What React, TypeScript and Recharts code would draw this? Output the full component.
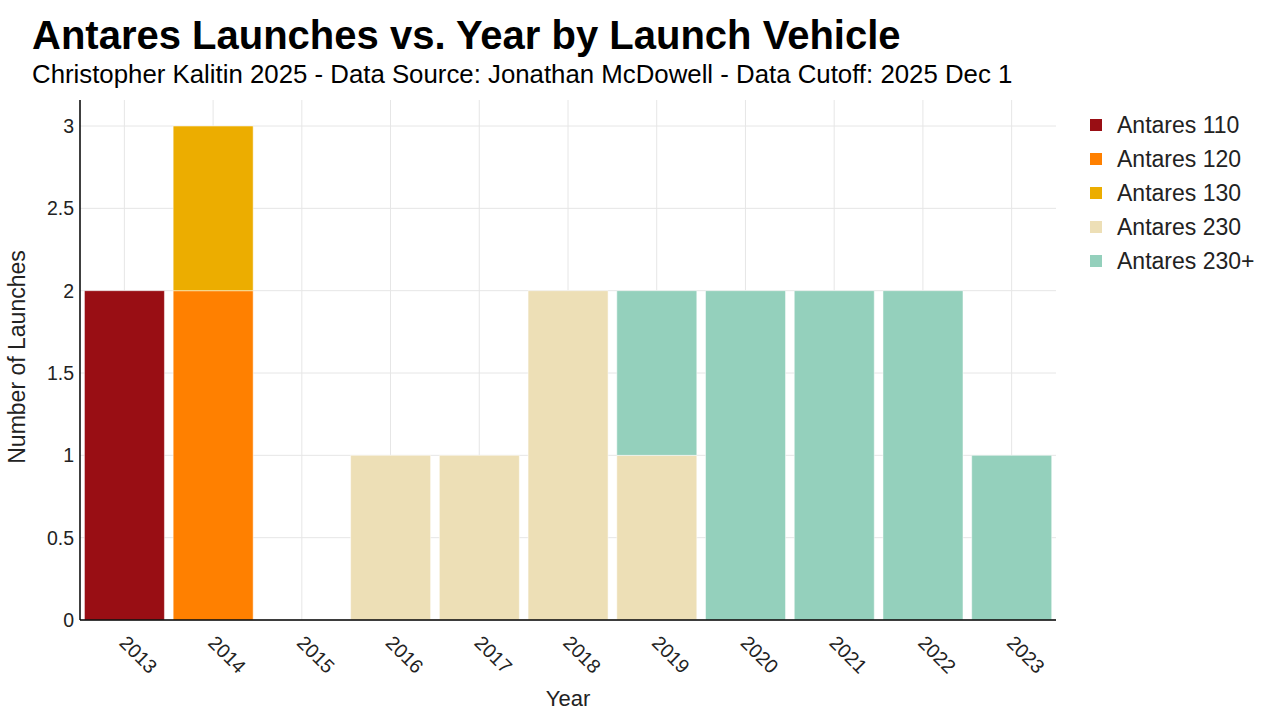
import React from 'react';
import { BarChart, Bar, XAxis, YAxis, CartesianGrid, Legend } from 'recharts';

const years = ['2013', '2014', '2015', '2016', '2017', '2018', '2019', '2020', '2021', '2022', '2023'];
const antares110 = [2, 0, 0, 0, 0, 0, 0, 0, 0, 0, 0];
const antares120 = [0, 2, 0, 0, 0, 0, 0, 0, 0, 0, 0];
const antares130 = [0, 1, 0, 0, 0, 0, 0, 0, 0, 0, 0];
const antares230 = [0, 0, 0, 1, 1, 2, 1, 0, 0, 0, 0];
const antares230p = [0, 0, 0, 0, 0, 0, 1, 2, 2, 2, 1];
const yTicks = [0, 0.5, 1, 1.5, 2, 2.5, 3];
const Y_MAX = 3.158;

const series = [
  { key: 'a110', name: 'Antares 110', color: '#990E14', values: antares110 },
  { key: 'a120', name: 'Antares 120', color: '#FF8000', values: antares120 },
  { key: 'a130', name: 'Antares 130', color: '#ECAD00', values: antares130 },
  { key: 'a230', name: 'Antares 230', color: '#EDDFB6', values: antares230 },
  { key: 'a230p', name: 'Antares 230+', color: '#94D0BC', values: antares230p },
];

const data = years.map((year, i) => {
  const row: Record<string, any> = { year };
  series.forEach((s) => {
    row[s.key] = s.values[i];
  });
  return row;
});

const FONT = '"Liberation Sans", Arial, Helvetica, sans-serif';
const TEXT = '#222';

const XTick = (props: any) => {
  const { x, y, payload } = props;
  return (
    <g transform={`translate(${x - 6},${y + 24})`}>
      <text transform="rotate(45)" textAnchor="start" fontSize={19.5} fill={TEXT} fontFamily={FONT}>
        {payload.value}
      </text>
    </g>
  );
};

const LegendContent = (props: any) => {
  const { payload } = props;
  return (
    <div style={{ fontFamily: FONT }}>
      {(payload || []).map((p: any) => (
        <div key={p.value} style={{ display: 'flex', alignItems: 'center', height: 34 }}>
          <div style={{ width: 12, height: 12, background: p.color, marginLeft: 4, marginRight: 15 }} />
          <span style={{ fontSize: 23, color: TEXT, whiteSpace: 'nowrap' }}>{p.value}</span>
        </div>
      ))}
    </div>
  );
};

// grid lines only at the tick values / category centres (no border lines)
const hGen = (props: any) => {
  const o = props.offset;
  return yTicks.map((t) => o.top + o.height * (1 - t / Y_MAX));
};

const vGen = (props: any) => {
  const o = props.offset;
  const band = o.width / years.length;
  return years.map((_, i) => o.left + band * (i + 0.5));
};

export default function App() {
  return (
    <div style={{ position: 'absolute', left: 0, top: 0, width: 1280, height: 720, background: '#fff', fontFamily: FONT }}>
      <BarChart
        width={1280}
        height={720}
        data={data}
        margin={{ top: 100, right: 34, left: 0, bottom: 0 }}
        barCategoryGap="5%"
      >
        <CartesianGrid stroke="#e6e6e6" strokeWidth={1} horizontalCoordinatesGenerator={hGen} verticalCoordinatesGenerator={vGen} />
        <XAxis
          dataKey="year"
          height={100}
          interval={0}
          tickLine={false}
          tickSize={0}
          tickMargin={0}
          axisLine={{ stroke: '#000', strokeWidth: 1.5 }}
          tick={<XTick />}
        />
        <YAxis
          type="number"
          width={80}
          domain={[0, Y_MAX]}
          ticks={yTicks}
          allowDataOverflow
          tickLine={false}
          tickSize={0}
          tickMargin={6}
          axisLine={{ stroke: '#000', strokeWidth: 1.5 }}
          tick={{ fontSize: 19.5, fill: TEXT, fontFamily: FONT }}
        />
        <Legend
          layout="vertical"
          verticalAlign="top"
          align="right"
          content={<LegendContent />}
          wrapperStyle={{ position: 'absolute', left: 1086, top: 108, width: 190 }}
        />
        {series.map((s) => (
          <Bar
            key={s.key}
            dataKey={s.key}
            name={s.name}
            stackId="a"
            fill={s.color}
            stroke="#ffffff"
            strokeWidth={0.5}
            isAnimationActive={false}
          />
        ))}
      </BarChart>
      <svg
        width={1280}
        height={720}
        style={{ position: 'absolute', left: 0, top: 0, pointerEvents: 'none' }}
      >
        <text x={32} y={49} fontSize={40} fontWeight="bold" fill="#000" fontFamily={FONT}>
          Antares Launches vs. Year by Launch Vehicle
        </text>
        <text x={32} y={83} fontSize={25.8} fill="#000" fontFamily={FONT}>
          Christopher Kalitin 2025 - Data Source: Jonathan McDowell - Data Cutoff: 2025 Dec 1
        </text>
        <text
          transform="translate(25,357) rotate(-90)"
          textAnchor="middle"
          fontSize={23}
          fill={TEXT}
          fontFamily={FONT}
        >
          Number of Launches
        </text>
        <text x={568} y={706} textAnchor="middle" fontSize={22} fill={TEXT} fontFamily={FONT}>
          Year
        </text>
      </svg>
    </div>
  );
}
